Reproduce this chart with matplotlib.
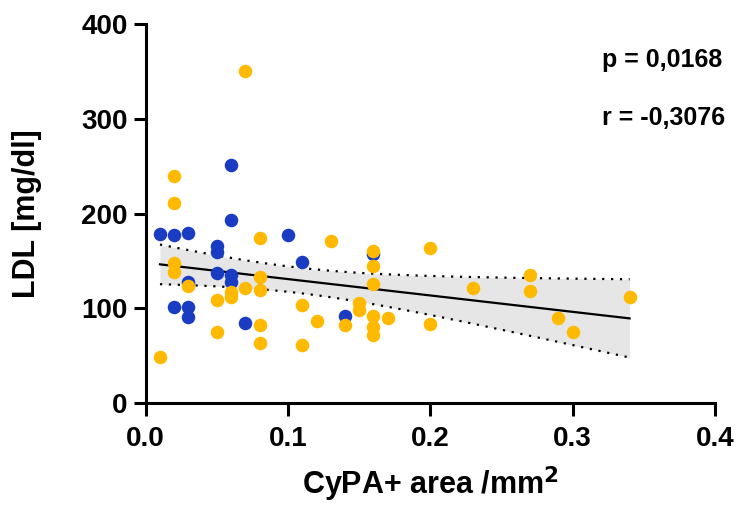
import numpy as np
import matplotlib
matplotlib.use("Agg")
import matplotlib.pyplot as plt

# Data (CyPA+ area vs LDL)
blue_x = [0.01, 0.02, 0.03, 0.06, 0.06, 0.05, 0.05, 0.10, 0.11, 0.05,
          0.06, 0.06, 0.03, 0.02, 0.03, 0.03, 0.07, 0.16, 0.14]
blue_y = [179, 178, 180, 193, 251, 166, 160, 178, 149, 137,
          135, 128, 128, 102, 102, 91, 85, 157, 92]

yellow_x = [0.07, 0.02, 0.02, 0.08, 0.13, 0.02, 0.02, 0.03, 0.05, 0.06,
            0.06, 0.07, 0.08, 0.08, 0.11, 0.12, 0.08, 0.05, 0.08, 0.11,
            0.01, 0.16, 0.16, 0.16, 0.20, 0.15, 0.15, 0.14, 0.16, 0.16,
            0.16, 0.17, 0.20, 0.23, 0.27, 0.27, 0.34, 0.29, 0.30]
yellow_y = [350, 240, 211, 174, 171, 148, 138, 124, 109, 117,
            112, 122, 133, 120, 104, 87, 83, 75, 64, 61,
            49, 161, 145, 126, 164, 106, 98, 83, 92, 80,
            72, 90, 84, 122, 135, 118, 112, 90, 75]

x_ticks = [0.0, 0.1, 0.2, 0.3, 0.4]
y_ticks = [0, 100, 200, 300, 400]
stats_text = ["p = 0,0168", "r = -0,3076"]

plt.rcParams['font.family'] = ['Liberation Sans', 'DejaVu Sans']
plt.rcParams['font.weight'] = 'bold'
plt.rcParams['mathtext.default'] = 'bf'

fig = plt.figure(figsize=(7.39, 5.13), dpi=100)
ax = fig.add_axes([0.1972, 0.2138, 0.7704, 0.7394])

# Linear regression with 95% confidence band on all points
x_all = np.array(blue_x + yellow_x)
y_all = np.array(blue_y + yellow_y)
n = len(x_all)
slope, intercept = np.polyfit(x_all, y_all, 1)
resid = y_all - (slope * x_all + intercept)
s_err = np.sqrt(np.sum(resid**2) / (n - 2))
x_mean = x_all.mean()
sxx = np.sum((x_all - x_mean)**2)
t_crit = 2.003

xf = np.linspace(x_all.min(), x_all.max(), 100)
yf = slope * xf + intercept
half = t_crit * s_err * np.sqrt(1.0 / n + (xf - x_mean)**2 / sxx)

ax.fill_between(xf, yf - half, yf + half, color='#e6e6e6', lw=0, zorder=1)
ax.plot(xf, yf + half, color='black', ls=(0, (1, 3)), lw=1.6, zorder=2)
ax.plot(xf, yf - half, color='black', ls=(0, (1, 3)), lw=1.6, zorder=2)
ax.plot(xf, yf, color='black', lw=1.6, zorder=3)

ax.scatter(blue_x, blue_y, s=95, color='#1a3cc2', lw=0, zorder=4)
ax.scatter(yellow_x, yellow_y, s=95, color='#ffb900', lw=0, zorder=5)

ax.set_xlim(0, 0.4)
ax.set_ylim(0, 400)
ax.set_xticks(x_ticks)
ax.set_xticklabels([f"{t:.1f}" for t in x_ticks])
ax.set_yticks(y_ticks)

ax.spines['top'].set_visible(False)
ax.spines['right'].set_visible(False)
for side in ['left', 'bottom']:
    ax.spines[side].set_linewidth(2.2)
ax.tick_params(width=2.2, length=9, labelsize=20)
ax.tick_params(axis='x', pad=7)
ax.tick_params(axis='y', pad=4)
for lab in ax.get_xticklabels() + ax.get_yticklabels():
    lab.set_fontweight('bold')

ax.set_xlabel("CyPA+ area /mm$^{2}$", fontsize=22, fontweight='bold', va='center')
ax.set_ylabel("LDL [mg/dl]", fontsize=22, fontweight='bold', va='center')
ax.xaxis.set_label_coords(0.5, -0.213)
ax.yaxis.set_label_coords(-0.2085, 0.5)

ax.text(0.801, 0.905, stats_text[0], transform=ax.transAxes, fontsize=18,
        fontweight='bold', va='center', ha='left')
ax.text(0.801, 0.752, stats_text[1], transform=ax.transAxes, fontsize=18,
        fontweight='bold', va='center', ha='left')

fig.savefig("out.png", dpi=100)
